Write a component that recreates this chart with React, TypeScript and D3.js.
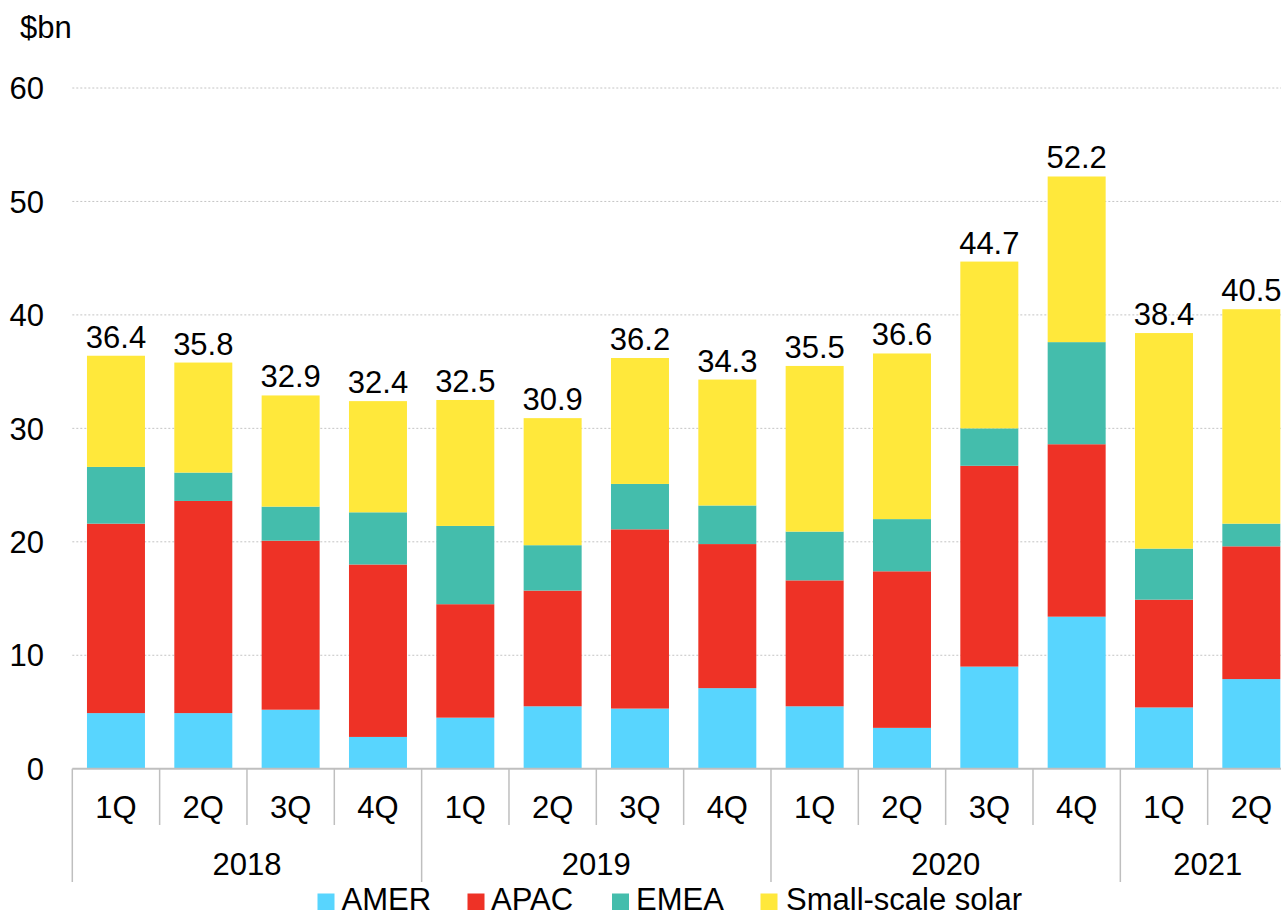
import React from 'react';
import * as d3 from 'd3';

const years = ['2018', '2019', '2020', '2021'];
const quarters = ['1Q', '2Q', '3Q', '4Q', '1Q', '2Q', '3Q', '4Q', '1Q', '2Q', '3Q', '4Q', '1Q', '2Q'];
const quarterYear = ['2018', '2018', '2018', '2018', '2019', '2019', '2019', '2019', '2020', '2020', '2020', '2020', '2021', '2021'];

const amer = [4.9, 4.9, 5.2, 2.8, 4.5, 5.5, 5.3, 7.1, 5.5, 3.6, 9.0, 13.4, 5.4, 7.9];
const apac = [16.7, 18.7, 14.9, 15.2, 10.0, 10.2, 15.8, 12.7, 11.1, 13.8, 17.7, 15.2, 9.5, 11.7];
const emea = [5.0, 2.5, 3.0, 4.6, 6.9, 4.0, 4.0, 3.4, 4.3, 4.6, 3.3, 9.0, 4.5, 2.0];
const solar = [9.8, 9.7, 9.8, 9.8, 11.1, 11.2, 11.1, 11.1, 14.6, 14.6, 14.7, 14.6, 19.0, 18.9];
const totals = ['36.4', '35.8', '32.9', '32.4', '32.5', '30.9', '36.2', '34.3', '35.5', '36.6', '44.7', '52.2', '38.4', '40.5'];

const seriesNames = ['AMER', 'APAC', 'EMEA', 'Small-scale solar'];
const seriesKeys = ['amer', 'apac', 'emea', 'solar'];
const colors = ['#58d5fe', '#ee3226', '#44bdac', '#ffe83b'];
const yTicks = [0, 10, 20, 30, 40, 50, 60];

const W = 1281;
const H = 916;
const left = 72.3;
const right = 1295;
const bottom = 768.7;
const top = 88;
const fs = 31;
const font = '"Liberation Sans", Arial, sans-serif';

export default function App() {
  const ids = quarters.map((q, i) => `${quarterYear[i]}-${q}`);
  const rows = ids.map((id, i) => ({ id, amer: amer[i], apac: apac[i], emea: emea[i], solar: solar[i] }));
  const stacked = d3.stack<any>().keys(seriesKeys)(rows);

  const xCell = d3.scaleBand().domain(ids).range([left, right]).paddingInner(0).paddingOuter(0);
  const xBar = xCell.copy().paddingInner(0.336).paddingOuter(0.168);
  const y = d3.scaleLinear().domain([0, 60]).range([bottom, top]);

  const yearBounds = years.map((yr) => {
    const idx = quarterYear.map((v, i) => (v === yr ? i : -1)).filter((i) => i >= 0);
    const x0 = xCell(ids[idx[0]])!;
    const x1 = xCell(ids[idx[idx.length - 1]])! + xCell.bandwidth();
    return { yr, x0, x1 };
  });

  const legendX = [317.5, 467.5, 612, 760.5];
  const legendGap = [24, 23.5, 24, 25.5];

  return (
    <svg width={W} height={H} style={{ position: 'absolute', left: 0, top: 0, background: '#fff' }} fontFamily={font}>
      <text x={20} y={38} fontSize={fs} fill="#000">$bn</text>
      {yTicks.map((t) => (
        <g key={t}>
          {t > 0 && (
            <line x1={left} x2={W} y1={y(t)} y2={y(t)} stroke="#c4c4c4" strokeWidth={1} strokeDasharray="2,2" />
          )}
          <text x={44} y={y(t)} dy="0.36em" textAnchor="end" fontSize={fs} fill="#000">{t}</text>
        </g>
      ))}
      {stacked.map((s, si) => (
        <g key={s.key} fill={colors[si]}>
          {s.map((d, i) => (
            <rect key={i} x={xBar(ids[i])} width={xBar.bandwidth()} y={y(d[1])} height={y(d[0]) - y(d[1])} />
          ))}
        </g>
      ))}
      {ids.map((id, i) => (
        <text key={id} x={xBar(id)! + xBar.bandwidth() / 2} y={y(stacked[3][i][1]) - 8} textAnchor="middle" fontSize={fs} fill="#000">
          {totals[i]}
        </text>
      ))}
      <line x1={left} x2={W} y1={bottom} y2={bottom} stroke="#bfbfbf" strokeWidth={2} />
      {ids.map((id, i) => (
        <g key={'q' + id}>
          {i > 0 && !yearBounds.some((b) => Math.abs(b.x0 - xCell(id)!) < 0.5) && (
            <line x1={xCell(id)} x2={xCell(id)} y1={bottom} y2={825} stroke="#bfbfbf" strokeWidth={1.5} />
          )}
          <text x={xCell(id)! + xCell.bandwidth() / 2} y={818} textAnchor="middle" fontSize={fs} fill="#000">
            {quarters[i]}
          </text>
        </g>
      ))}
      {yearBounds.map((b) => (
        <g key={b.yr}>
          <line x1={b.x0} x2={b.x0} y1={bottom} y2={882} stroke="#bfbfbf" strokeWidth={1.5} />
          <text x={(b.x0 + Math.min(b.x1, W + 14)) / 2} y={875} textAnchor="middle" fontSize={fs} fill="#000">
            {b.yr}
          </text>
        </g>
      ))}
      {seriesNames.map((n, i) => (
        <g key={n}>
          <rect x={legendX[i]} y={893.5} width={17} height={16.5} fill={colors[i]} />
          <text x={legendX[i] + legendGap[i]} y={909.5} fontSize={fs} fill="#000">{n}</text>
        </g>
      ))}
    </svg>
  );
}
